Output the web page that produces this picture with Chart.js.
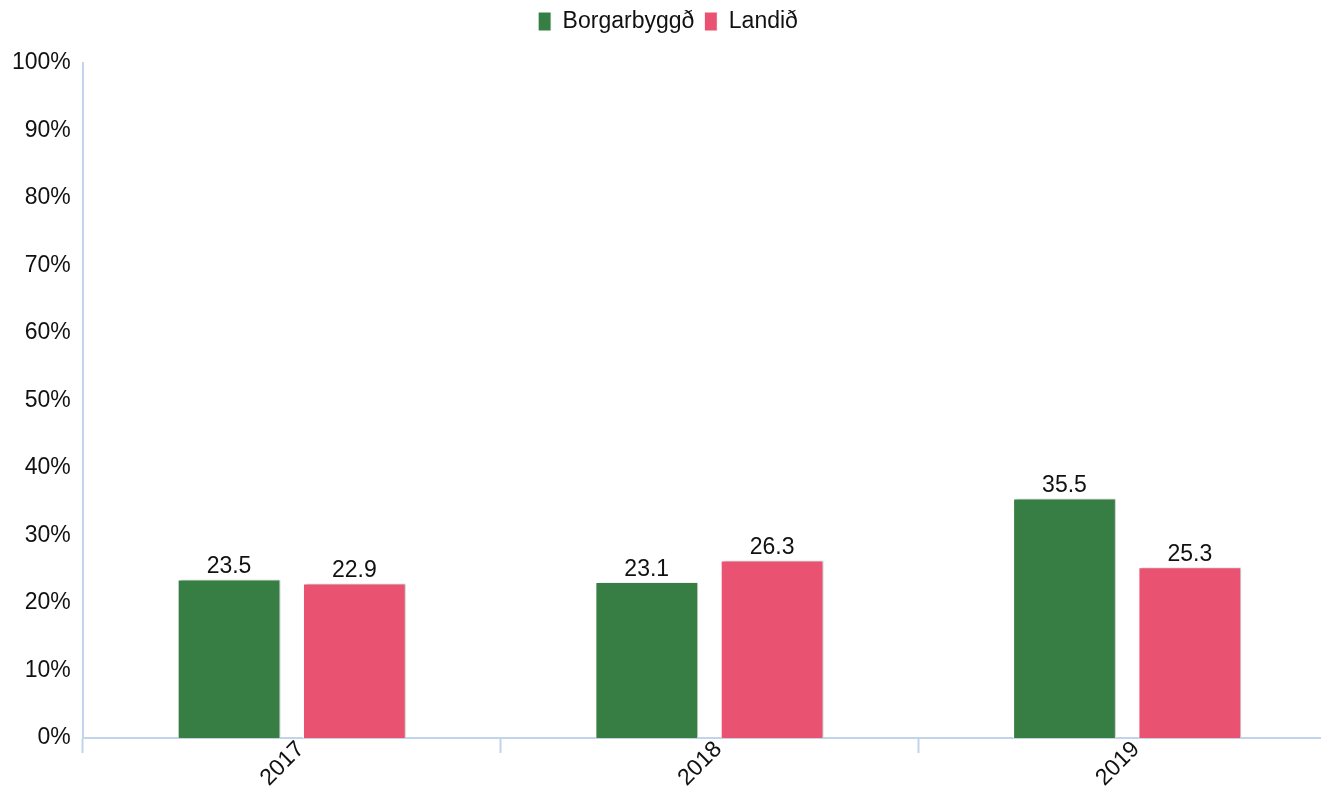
<!DOCTYPE html>
<html>
<head>
<meta charset="utf-8">
<script src="https://cdn.jsdelivr.net/npm/chart.js@4"></script>
<style>
  html, body { margin: 0; padding: 0; background: #fff; overflow: hidden; }
  #wrap { width: 1344px; height: 786px; }
</style>
</head>
<body>
<div id="wrap"><canvas id="myChart"></canvas></div>
<script>
var years = ['2017', '2018', '2019'];
var borgarbyggd = [23.5, 23.1, 35.5];
var landid = [22.9, 26.3, 25.3];
var yTicks = [0, 10, 20, 30, 40, 50, 60, 70, 80, 90, 100];

var axisColor = '#c3d4e8';
var fontSize = 23;

// value labels above bars
var valueLabels = {
    id: 'valueLabels',
    afterDatasetsDraw: function(chart) {
        var ctx = chart.ctx;
        ctx.save();
        ctx.font = fontSize + 'px "Liberation Sans", Arial, sans-serif';
        ctx.fillStyle = '#111';
        ctx.textAlign = 'center';
        ctx.textBaseline = 'bottom';
        chart.data.datasets.forEach(function(ds, i) {
            chart.getDatasetMeta(i).data.forEach(function(bar, j) {
                ctx.fillText(ds.data[j].toFixed(1), bar.x, bar.y - 1);
            });
        });
        ctx.restore();
    }
};

// soft shadow on the bars
var barShadow = {
    id: 'barShadow',
    beforeDatasetsDraw: function(chart) {
        var ctx = chart.ctx;
        ctx.save();
        ctx.shadowColor = 'rgba(0,0,0,0.2)';
        ctx.shadowBlur = 2;
        ctx.shadowOffsetX = 3;
        ctx.shadowOffsetY = 0;
    },
    afterDatasetsDraw: function(chart) {
        chart.ctx.restore();
    }
};

// extra space under the legend
var legendGap = {
    id: 'legendGap',
    beforeInit: function(chart) {
        var fit = chart.legend.fit;
        chart.legend.fit = function() {
            fit.bind(chart.legend)();
            this.height += 20;
        };
    }
};

Chart.defaults.font.family = '"Liberation Sans", Arial, sans-serif';
Chart.defaults.color = '#111';

new Chart(document.getElementById('myChart'), {
    type: 'bar',
    data: {
        labels: years,
        datasets: [{
            label: 'Borgarbyggð',
            data: borgarbyggd,
            backgroundColor: '#377e44',
            borderColor: '#ffffff',
            borderWidth: 1
        }, {
            label: 'Landið',
            data: landid,
            backgroundColor: '#e95371',
            borderColor: '#ffffff',
            borderWidth: 1
        }]
    },
    options: {
        responsive: true,
        maintainAspectRatio: false,
        animation: false,
        categoryPercentage: 0.6,
        barPercentage: 0.82,
        layout: { padding: { left: 0, right: 8, top: 0, bottom: 0 } },
        plugins: {
            legend: {
                position: 'top',
                labels: {
                    font: { size: fontSize },
                    color: '#111',
                    boxWidth: 13,
                    boxHeight: 19,
                    padding: 10
                }
            },
            tooltip: { enabled: false }
        },
        scales: {
            x: {
                afterFit: function(axis) {
                    axis.height = 48;
                },
                grid: {
                    display: true,
                    offset: true,
                    drawOnChartArea: false,
                    drawTicks: true,
                    tickLength: 15,
                    tickWidth: 2,
                    color: axisColor
                },
                border: { display: true, color: axisColor, width: 2 },
                ticks: {
                    font: { size: fontSize },
                    color: '#111',
                    minRotation: 45,
                    maxRotation: 45,
                    labelOffset: 9,
                    padding: -17
                }
            },
            y: {
                min: 0,
                max: 100,
                afterBuildTicks: function(axis) {
                    axis.ticks = yTicks.map(function(v) { return { value: v }; });
                },
                grid: { display: false, drawTicks: false },
                border: { display: true, color: axisColor, width: 2 },
                ticks: {
                    font: { size: fontSize },
                    color: '#111',
                    padding: 12,
                    callback: function(v) { return v + '%'; }
                }
            }
        }
    },
    plugins: [legendGap, barShadow, valueLabels]
});
</script>
</body>
</html>
